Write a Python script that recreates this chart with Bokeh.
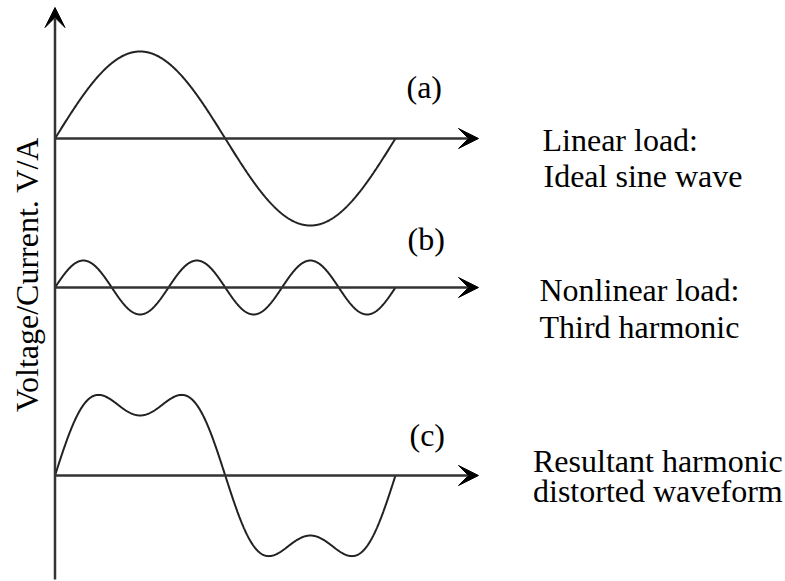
import numpy as np
from bokeh.plotting import figure
from bokeh.models import Range1d, Arrow, VeeHead, ColumnDataSource
from bokeh.core.properties import value
from bokeh.embed import file_html
from bokeh.resources import INLINE

W, H = 785, 581

# Harmonic content, amplitudes relative to the fundamental
fundamental_amp = 1.0
third_harmonic_amp = 0.31
harmonic_order = 3

panel_tags = ["(a)", "(b)", "(c)"]
panel_captions = [
    ["Linear load:", "Ideal sine wave"],
    ["Nonlinear load:", "Third harmonic"],
    ["Resultant harmonic", "distorted waveform"],
]
y_label = "Voltage/Current. V/A"

# Layout (page pixels): origin of the time axis, end of one cycle, amplitude scale
X0_PX, CYCLE_END_PX, AMP_PX = 54.5, 395.0, 87.0
DEG_PER_PX = 360.0 / (CYCLE_END_PX - X0_PX)
TEXT_SHIFT = 11  # bokeh puts the text line box slightly below the anchor


def fx(px):
    return (px - X0_PX) * DEG_PER_PX


def fy(py):
    return (H - py) / AMP_PX


baseline_px = [138, 287, 475]
baselines = [fy(v) for v in baseline_px]

# one full cycle of the fundamental
phase = np.linspace(0.0, 360.0, 721)
rad = np.radians(phase)
wave_fund = fundamental_amp * np.sin(rad)
wave_third = third_harmonic_amp * np.sin(harmonic_order * rad)
wave_sum = wave_fund + wave_third
waves = [wave_fund, wave_third, wave_sum]

p = figure(
    width=W, height=H,
    x_range=Range1d(fx(0), fx(W)), y_range=Range1d(fy(H), fy(0)),
    output_backend="svg", toolbar_location=None,
    min_border=0, min_border_left=0, min_border_right=0,
    min_border_top=0, min_border_bottom=0,
)
p.axis.visible = False
p.grid.visible = False
p.outline_line_color = None
p.background_fill_color = "white"
p.border_fill_color = "white"

AXIS_COLOR = "#333333"
CURVE_COLOR = "#222222"

# vertical (voltage/current) axis
p.add_layout(Arrow(
    x_start=0, y_start=fy(579), x_end=0, y_end=fy(7),
    line_color=AXIS_COLOR, line_width=2.5,
    end=VeeHead(size=20, fill_color="black", line_color="black", line_width=1),
))

# time axes and waveforms
for base, wave in zip(baselines, waves):
    p.add_layout(Arrow(
        x_start=0, y_start=base, x_end=fx(478), y_end=base,
        line_color=AXIS_COLOR, line_width=2.5,
        end=VeeHead(size=20, fill_color="black", line_color="black", line_width=1),
    ))
    p.line(phase, base + wave, line_color=CURVE_COLOR, line_width=2)

FONT = value("'Liberation Serif', 'Times New Roman', serif")
FS = "32px"

tag_src = ColumnDataSource(dict(
    x=[fx(406), fx(407), fx(409)],
    y=[fy(97 - TEXT_SHIFT), fy(249 - TEXT_SHIFT), fy(445 - TEXT_SHIFT)],
    t=panel_tags,
))
p.text("x", "y", text="t", source=tag_src, text_font=FONT, text_font_size=FS,
       text_color="black", text_align="left", text_baseline="alphabetic")

cap_x = [fx(542), fx(543), fx(539), fx(539), fx(532.5), fx(532.5)]
cap_y = [fy(v - TEXT_SHIFT) for v in [150, 186, 300, 337.5, 471, 501]]
cap_t = [line for pair in panel_captions for line in pair]
cap_src = ColumnDataSource(dict(x=cap_x, y=cap_y, t=cap_t))
p.text("x", "y", text="t", source=cap_src, text_font=FONT, text_font_size=FS,
       text_color="black", text_align="left", text_baseline="alphabetic")

p.text(x=[fx(37 - TEXT_SHIFT)], y=[fy(274)], text=[y_label], angle=np.pi / 2,
       text_font=FONT, text_font_size=FS, text_color="black",
       text_align="center", text_baseline="alphabetic")

open("out.html", "w").write(file_html(p, INLINE))
